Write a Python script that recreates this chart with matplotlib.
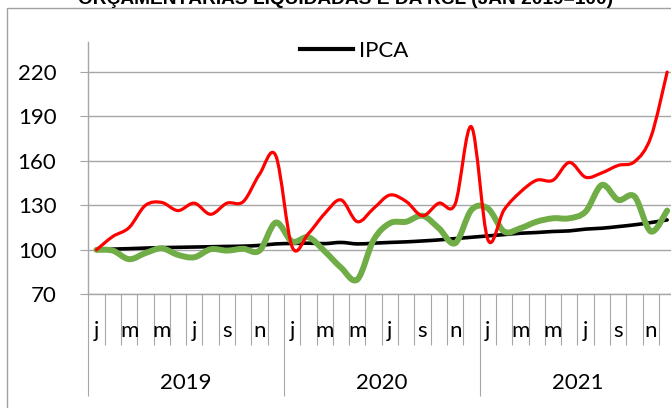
import matplotlib
matplotlib.use('Agg')
from matplotlib import pyplot as plt
from matplotlib.path import Path
from matplotlib.patches import PathPatch, Rectangle
from matplotlib.lines import Line2D
from matplotlib import transforms

title = 'ORÇAMENTÁRIAS LIQUIDADAS E DA RCL (JAN 2019=100)'
years = ['2019', '2020', '2021']
month_labels = ['j', '', 'm', '', 'm', '', 'j', '', 's', '', 'n', '']

ipca = [100, 100.5, 100.8, 101.2, 101.5, 101.7, 101.9, 102.1, 102.3, 102.5, 103.0, 104.0,
        104.3, 104.5, 104.2, 105.0, 104.0, 104.5, 105.0, 105.4, 106.0, 106.7, 107.6, 108.5,
        109.4, 110.3, 111.2, 111.7, 112.4, 112.8, 114.0, 114.6, 115.7, 116.9, 118.4, 120.2]
red_series = [100, 109, 115, 130, 132, 126.5, 131.5, 124, 131.5, 132.5, 151, 163.5,
              102, 111, 124.5, 133.7, 119, 128, 137, 132.6, 123, 131.5, 131, 183,
              107, 127, 139, 147, 147, 159, 149, 152, 157, 159.5, 176, 220]
green_series = [100, 99.5, 93.7, 97.8, 101, 96.6, 95, 100.4, 99.5, 100.7, 99.5, 118.4,
                105.6, 108.5, 99, 88, 80, 106.7, 118, 119, 123, 114.6, 104.5, 127,
                128, 112.4, 114.6, 119, 121.3, 121.3, 125.8, 143.8, 133.7, 136, 112.4, 126.5]

GRAY = '#A6A6A6'
FONT = 'Lato'


def smoothPath(ys):
    # excel-like smoothed line: catmull-rom turned into cubic beziers
    xs = [i + 0.5 for i in range(len(ys))]
    n = len(ys)
    verts = [(xs[0], ys[0])]
    codes = [Path.MOVETO]
    for i in range(n - 1):
        a = i - 1 if i > 0 else i
        d = i + 2 if i + 2 < n else i + 1
        c1 = (xs[i] + (xs[i + 1] - xs[a]) / 6, ys[i] + (ys[i + 1] - ys[a]) / 6)
        c2 = (xs[i + 1] - (xs[d] - xs[i]) / 6, ys[i + 1] - (ys[d] - ys[i]) / 6)
        verts += [c1, c2, (xs[i + 1], ys[i + 1])]
        codes += [Path.CURVE4] * 3
    return Path(verts, codes)


def addLine(ax, ys, color, lw, z):
    ax.add_patch(PathPatch(smoothPath(ys), fill=False, edgecolor=color, lw=lw,
                           capstyle='round', joinstyle='round', zorder=z))


fig = plt.figure(figsize=(6.71, 4.08), dpi=100)
ax = fig.add_axes([88.3 / 671, (408 - 294.3) / 408, 587 / 671, 251.9 / 408])

# outer chart border (cropped on right and bottom)
fig.patches.append(Rectangle((7.3 / 671, -0.1), 1.2, 1.1 - 8.3 / 408, transform=fig.transFigure,
                             fill=False, edgecolor='#A0A0A0', lw=1.0))

fig.text(346 / 671, 1 - 4.5 / 408, title, ha='center', va='baseline',
         family='Liberation Sans', fontweight='bold', fontsize=13.8)

n = len(ipca)
addLine(ax, ipca, 'black', 2.6, 3)
addLine(ax, green_series, '#70AD47', 4.3, 4)
addLine(ax, red_series, '#FF0000', 2.3, 5)

ax.set_xlim(0, n)
ax.set_ylim(70, 240)
ax.set_yticks(range(70, 221, 30))
ax.grid(axis='y', color=GRAY, lw=1.0)
ax.set_axisbelow(True)
for s in ['top', 'right']:
    ax.spines[s].set_visible(False)
for s in ['left', 'bottom']:
    ax.spines[s].set_color(GRAY)
    ax.spines[s].set_linewidth(1.0)

ax.tick_params(axis='y', length=6, width=0.8, color=GRAY, pad=17, labelsize=16)
for lab in ax.get_yticklabels():
    lab.set_family(FONT)

ax.set_xticks(range(0, n + 1, 12))
ax.set_xticks(range(n + 1), minor=True)
ax.set_xticklabels([])
ax.tick_params(axis='x', which='major', length=73.7, width=0.8, color=GRAY)
ax.tick_params(axis='x', which='minor', length=37, width=0.8, color=GRAY)

trans = transforms.blended_transform_factory(ax.transData, ax.transAxes)
for i in range(n):
    lab = month_labels[i % 12]
    if lab:
        ax.text(i + 0.5, -0.170, lab, transform=trans, ha='center', va='baseline',
                family=FONT, fontsize=16, clip_on=False)
for k, yr in enumerate(years):
    ax.text(12 * k + 6, -0.374, yr, transform=trans, ha='center', va='baseline',
            family=FONT, fontsize=16, clip_on=False)

handle = Line2D([], [], color='black', lw=3)
ax.legend(handles=[handle], labels=['IPCA'], loc='center left',
          bbox_to_anchor=(300 / 671, 1 - 51 / 408), bbox_transform=fig.transFigure,
          frameon=False, borderpad=0, borderaxespad=0, handlelength=2.4,
          handletextpad=0.25, prop={'family': FONT, 'size': 16})

fig.savefig('out.png', dpi=100)
